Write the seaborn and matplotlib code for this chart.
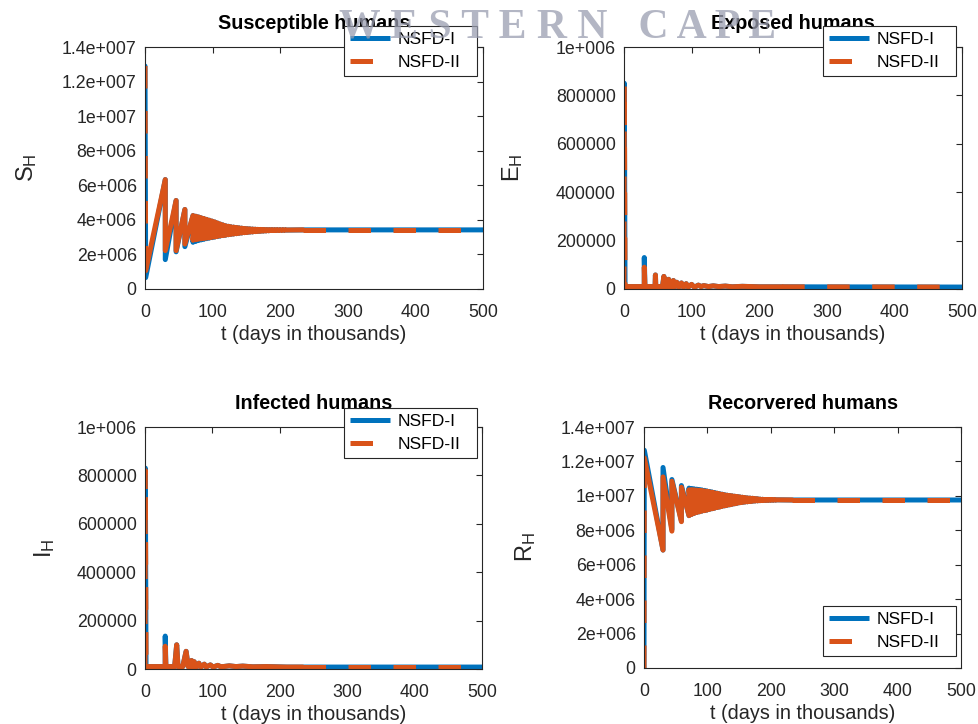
import numpy as np
import pandas as pd
import matplotlib
matplotlib.use("Agg")
import matplotlib.pyplot as plt
from matplotlib.lines import Line2D
import seaborn as sns

# ---------------- data ----------------
methods = ["NSFD-I", "NSFD-II"]
colors = {"NSFD-I": "#0072BD", "NSFD-II": "#D95319"}

# Susceptible humans (millions): early large teeth, dense damped band, flat tail
t_S_head = [0, 1, 30, 30, 46, 46, 59, 59, 71, 71]
S_I_head = [12.9, 0.66, 6.33, 1.70, 5.12, 2.15, 4.60, 2.45, 4.25, 2.70]
S_II_head = [12.9, 1.06, 6.33, 2.22, 5.12, 2.22, 4.60, 2.60, 4.25, 2.82]
t_band = [75, 79, 83, 87, 91, 95, 99, 103, 107, 111, 115, 119, 123, 127, 131, 135,
          139, 143, 147, 151, 155, 159, 163, 167, 171, 175, 179, 183, 187, 191,
          195, 199, 203, 207]
S_hi = [4.21, 4.17, 4.12, 4.08, 4.03, 3.98, 3.93, 3.88, 3.82, 3.76, 3.71, 3.66,
        3.63, 3.60, 3.58, 3.56, 3.54, 3.52, 3.50, 3.49, 3.48, 3.47, 3.46, 3.45,
        3.445, 3.44, 3.435, 3.43, 3.43, 3.425, 3.425, 3.42, 3.42, 3.42]
S_I_lo = [2.75, 2.80, 2.84, 2.87, 2.91, 2.94, 2.97, 3.00, 3.03, 3.06, 3.09, 3.11,
          3.14, 3.16, 3.18, 3.20, 3.22, 3.24, 3.26, 3.27, 3.29, 3.30, 3.32, 3.33,
          3.34, 3.35, 3.36, 3.37, 3.38, 3.39, 3.395, 3.40, 3.405, 3.41]
S_II_lo = [2.85, 2.88, 2.90, 2.92, 2.94, 2.96, 2.99, 3.01, 3.04, 3.07, 3.09, 3.11,
           3.14, 3.16, 3.18, 3.20, 3.22, 3.24, 3.26, 3.27, 3.29, 3.30, 3.32, 3.33,
           3.34, 3.35, 3.36, 3.37, 3.38, 3.39, 3.395, 3.40, 3.405, 3.41]
t_tail = [234, 500]
S_tail = [3.42, 3.42]

# Recovered humans (millions)
t_R_head = [0, 0.5, 30, 30, 44, 44, 59, 59, 71, 71]
R_I_head = [0, 12.65, 6.85, 11.65, 8.05, 10.95, 8.55, 10.60, 8.85, 10.45]
R_II_head = [0, 12.2, 6.85, 11.1, 7.95, 10.85, 8.50, 10.50, 8.85, 10.35]
R_lo = [8.92, 8.98, 9.03, 9.07, 9.11, 9.14, 9.17, 9.21, 9.25, 9.28, 9.32, 9.35,
        9.39, 9.42, 9.45, 9.48, 9.51, 9.54, 9.57, 9.60, 9.62, 9.64, 9.655, 9.67,
        9.685, 9.70, 9.71, 9.72, 9.73, 9.74, 9.745, 9.75, 9.755, 9.76]
R_I_hi = [10.43, 10.41, 10.39, 10.37, 10.35, 10.32, 10.29, 10.26, 10.23, 10.20,
          10.16, 10.13, 10.10, 10.07, 10.04, 10.02, 10.00, 9.98, 9.96, 9.94, 9.92,
          9.90, 9.88, 9.87, 9.86, 9.84, 9.83, 9.81, 9.80, 9.79, 9.785, 9.78, 9.775, 9.77]
R_II_hi = [10.36, 10.35, 10.34, 10.33, 10.31, 10.29, 10.27, 10.24, 10.21, 10.18,
           10.15, 10.12, 10.09, 10.06, 10.04, 10.02, 10.00, 9.98, 9.96, 9.94, 9.92,
           9.90, 9.88, 9.87, 9.86, 9.84, 9.83, 9.81, 9.80, 9.79, 9.785, 9.78, 9.775, 9.77]
R_tail = [9.76, 9.76]

# Exposed humans (thousands)
t_E = [0, 0.5, 1.5, 30, 30, 31, 46, 46.5, 47, 57, 59, 61, 64, 66, 68, 71, 73,
       75, 78, 80, 82, 85, 87, 89, 92, 94, 96, 100, 103, 106, 110, 114, 118,
       125, 132, 140, 150, 160, 175, 200, 234, 500]
E_I = [0, 850, 10, 10, 130, 10, 10, 58, 10, 10, 52, 10, 10, 40, 10, 10, 35,
       10, 28, 10, 10, 25, 10, 10, 22, 10, 10, 19, 10, 10, 16, 10, 14,
       10, 13, 10, 12, 9, 11, 9, 9, 8]
E_II = [0, 850, 10, 10, 90, 10, 10, 58, 10, 10, 52, 10, 10, 40, 10, 10, 35,
        10, 28, 10, 10, 25, 10, 10, 22, 10, 10, 19, 10, 10, 16, 10, 14,
        10, 13, 10, 12, 9, 11, 9, 9, 8]

# Infected humans (thousands)
t_I = [0, 0.5, 1.5, 30, 30, 31, 44, 47, 49, 56, 61, 64, 67, 69, 71, 73, 75,
       77, 80, 82, 84, 88, 90, 92, 97, 100, 103, 108, 112, 116, 125, 135,
       145, 160, 180, 210, 234, 500]
I_I = [0, 830, 10, 10, 136, 10, 10, 100, 10, 10, 73, 10, 10, 35, 10, 30, 10,
       10, 24, 10, 10, 20, 10, 10, 17, 10, 10, 15, 10, 10, 13, 10, 12, 9,
       10, 8, 8, 8]
I_II = [0, 820, 10, 10, 94, 10, 10, 100, 10, 10, 73, 10, 10, 35, 10, 30, 10,
        10, 24, 10, 10, 20, 10, 10, 17, 10, 10, 15, 10, 10, 13, 10, 12, 9,
        10, 8, 8, 8]

titles = ["Susceptible humans", "Exposed humans", "Infected humans", "Recorvered humans"]
ylabels = ["S", "E", "I", "R"]
xlabel = "t (days in thousands)"
xticks = [0, 100, 200, 300, 400, 500]
big_ticks = [0, 2e6, 4e6, 6e6, 8e6, 1e7, 1.2e7, 1.4e7]
big_labels = ["0", "2e+006", "4e+006", "6e+006", "8e+006", "1e+007", "1.2e+007", "1.4e+007"]
small_ticks = [0, 2e5, 4e5, 6e5, 8e5, 1e6]
small_labels = ["0", "200000", "400000", "600000", "800000", "1e+006"]
watermark = "W E S T E R N   C A P E"


def assemble(head_t, head_v, first, second, tail_v):
    """Chain the read points: head, then each band time with its two values
    (before/after the vertical jump), then the flat tail."""
    tt, vv = list(head_t), list(head_v)
    for tb, a, b in zip(t_band, first, second):
        tt += [tb, tb]
        vv += [a, b]
    return tt + t_tail, vv + list(tail_v)


tS, S1 = assemble(t_S_head, S_I_head, S_hi, S_I_lo, S_tail)
_, S2 = assemble(t_S_head, S_II_head, S_hi, S_II_lo, S_tail)
tR, R1 = assemble(t_R_head, R_I_head, R_lo, R_I_hi, R_tail)
_, R2 = assemble(t_R_head, R_II_head, R_lo, R_II_hi, R_tail)

# ---------------- style ----------------
sns.set_style("white")
plt.rcParams["font.family"] = ["Liberation Sans", "DejaVu Sans"]
plt.rcParams["text.color"] = "#000000"

W, H = 979, 724
fig = plt.figure(figsize=(W / 100, H / 100), dpi=100)
fig.patch.set_facecolor("white")

def px_axes(x0, y0, x1, y1):
    return fig.add_axes([x0 / W, 1 - y1 / H, (x1 - x0) / W, (y1 - y0) / H])

axes = [px_axes(145, 47, 483, 289), px_axes(624, 47, 962, 289),
        px_axes(145, 427, 482, 669), px_axes(644, 427, 961, 668)]

series = [
    (tS, np.array(S1) * 1e6, np.array(S2) * 1e6),
    (t_E, np.array(E_I) * 1e3, np.array(E_II) * 1e3),
    (t_I, np.array(I_I) * 1e3, np.array(I_II) * 1e3),
    (tR, np.array(R1) * 1e6, np.array(R2) * 1e6),
]
yspecs = [(big_ticks, big_labels, 1.4e7), (small_ticks, small_labels, 1e6),
          (small_ticks, small_labels, 1e6), (big_ticks, big_labels, 1.4e7)]
ylabel_x = [-0.314, -0.293, -0.261, -0.334]
legend_boxes = [(344, 26, 477, 82), (823, 26, 956, 82),
                (344, 408, 477, 464), (823, 606, 956, 663)]
head_pts = [2, 3, 3, 2]   # leading points drawn dashed (initial vertical jump)
TAIL_T = 234              # from here on the dash pattern is visible

LW = 3.6
DASH = (4.5, 4.5)
DARK = "#262626"

for k, ax in enumerate(axes):
    t, v1, v2 = series[k]
    t = list(t)
    df1 = pd.DataFrame({"t": t, "v": list(v1)})
    sns.lineplot(data=df1, x="t", y="v", color=colors["NSFD-I"], sort=False,
                 estimator=None, linewidth=LW, legend=False, ax=ax)

    j = t.index(TAIL_T)
    h = head_pts[k]
    rows = []
    for i in range(0, h):
        rows.append((t[i], v2[i], 0, "dashed"))
    for i in range(h - 1, j + 1):
        rows.append((t[i], v2[i], 1, "solid"))
    for i in range(j, len(t)):
        rows.append((t[i], v2[i], 2, "dashed"))
    df2 = pd.DataFrame(rows, columns=["t", "v", "piece", "ls"])
    sns.lineplot(data=df2, x="t", y="v", style="ls", units="piece",
                 style_order=["solid", "dashed"],
                 dashes={"solid": "", "dashed": DASH}, color=colors["NSFD-II"],
                 sort=False, estimator=None, linewidth=LW, legend=False, ax=ax)

    ticks, labels, ymax = yspecs[k]
    ax.set_xlim(0, 500)
    ax.set_ylim(0, ymax)
    ax.set_xticks(xticks)
    ax.set_xticklabels([str(x) for x in xticks])
    ax.set_yticks(ticks)
    ax.set_yticklabels(labels)
    ax.tick_params(direction="in", length=4, width=0.8, top=True, right=True,
                   labelsize=12.8, colors=DARK)
    ax.tick_params(axis="y", pad=6)
    ax.tick_params(axis="x", pad=10.5)
    for s in ax.spines.values():
        s.set_linewidth(0.8)
        s.set_color(DARK)
    ax.set_xlabel(xlabel, fontsize=14.3, color=DARK, labelpad=3)
    ax.set_ylabel(r"$\mathregular{%s_H}$" % ylabels[k], fontsize=17, color=DARK)
    ax.yaxis.set_label_coords(ylabel_x[k], 0.5)
    ax.set_title(titles[k], fontsize=14.2, fontweight="bold", pad=13)

    handles = [Line2D([], [], color=colors["NSFD-I"], lw=LW, solid_capstyle="butt"),
               Line2D([], [], color=colors["NSFD-II"], lw=LW, dashes=DASH)]
    x0, y0, x1, y1 = legend_boxes[k]
    leg = ax.legend(handles, methods, loc="upper left",
                    bbox_to_anchor=(x0 / W, 1 - y1 / H, (x1 - x0) / W, (y1 - y0) / H),
                    bbox_transform=fig.transFigure, mode="expand", borderaxespad=0,
                    fontsize=12.6, handlelength=2.3, handletextpad=0.4,
                    borderpad=0.35, labelspacing=0.4, frameon=True, fancybox=False,
                    framealpha=1, edgecolor=DARK)
    leg.get_frame().set_linewidth(0.8)

# watermark
fig.text(558 / W, 1 - 27 / H, watermark, fontsize=30, fontweight="bold",
         family=["Liberation Serif", "DejaVu Serif"], color="#9a9eb0",
         alpha=0.75, ha="center", va="center", zorder=10)

fig.savefig("out.png", dpi=100)
